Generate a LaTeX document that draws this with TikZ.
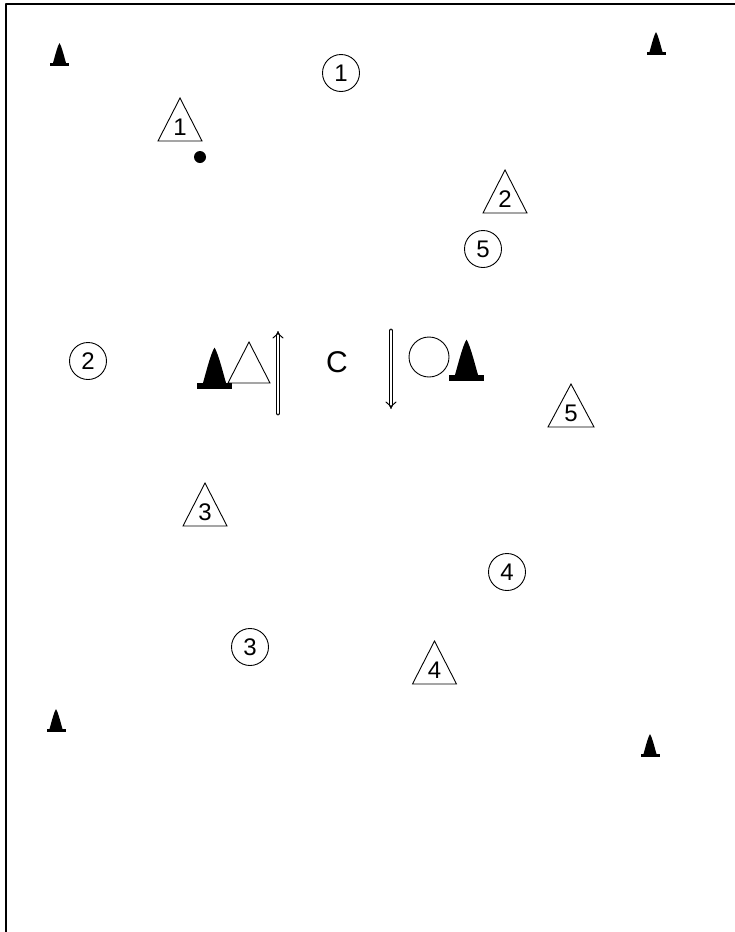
\documentclass[tikz,border=0pt]{standalone}
\usepackage{fontspec}
\setmainfont{Liberation Sans}
\usetikzlibrary{arrows.meta}

\tikzset{
  cone/.pic={
    \path[fill=black] (-9.5,0) rectangle (9.5,-3.5);
    \path[fill=black] (-6.5,-3) .. controls (-4.5,-10) and (-2,-20) .. (0,-23)
      .. controls (2,-20) and (4.5,-10) .. (6.5,-3) -- cycle;
  },
  numtext/.style={font=\fontsize{24}{24}\selectfont,inner sep=0pt},
  circnum/.style={numtext,draw,circle,minimum size=37pt,line width=.9pt},
  trinum/.style={numtext},
  tri/.style={draw,line width=.9pt,line join=miter},
  dblarrow/.style={double,double distance=2.8pt,line width=1pt,-{Implies[length=6pt,width=10pt]}}
}

\begin{document}
\begin{tikzpicture}[x=1pt,y=-1pt,line cap=round,line join=round]
\useasboundingbox (0,0) rectangle (735,932);
% field edges
\draw[line width=2pt,line cap=butt] (6,932) -- (6,4) -- (735,4);
% corner cones
\pic at (59.5,66) {cone};
\pic at (656,55) {cone};
\pic at (56,732) {cone};
\pic at (650,757) {cone};
% centre
\pic[scale=1.8] at (214.5,389) {cone};
\pic[scale=1.8] at (466.5,381) {cone};
\node[font=\fontsize{30}{30}\selectfont,inner sep=0pt] (centre) at (337,362) {C};
\coordinate (upfoot) at (278,413);
\coordinate (uphead) at (278,331);
\coordinate (downfoot) at (391,331);
\coordinate (downhead) at (391,409);
\draw[dblarrow] (upfoot) -- (uphead);
\draw[dblarrow] (downfoot) -- (downhead);
\draw[tri] (249,342) -- (270,383) -- (228,383) -- cycle;
\node[draw,circle,minimum size=40pt,inner sep=0pt,line width=.9pt] (keeper) at (429,357) {};
% circled players
\node[circnum] (c1) at (341,73) {1};
\node[circnum] (c2) at (88,361) {2};
\node[circnum] (c3) at (250,647) {3};
\node[circnum] (c4) at (507,572) {4};
\node[circnum] (c5) at (483,249) {5};
% triangle players
\node[trinum] (t1) at (180,127) {1};
\draw[tri,shift={(t1)}] (0,-29) -- (22,14) -- (-22,14) -- cycle;
\node[trinum] (t2) at (505,199) {2};
\draw[tri,shift={(t2)}] (0,-29) -- (22,14) -- (-22,14) -- cycle;
\node[trinum] (t3) at (205,512) {3};
\draw[tri,shift={(t3)}] (0,-29) -- (22,14) -- (-22,14) -- cycle;
\node[trinum] (t4) at (434.5,670) {4};
\draw[tri,shift={(t4)}] (0,-29) -- (22,14) -- (-22,14) -- cycle;
\node[trinum] (t5) at (571,413) {5};
\draw[tri,shift={(t5)}] (0,-29) -- (23,14) -- (-23,14) -- cycle;
% ball
\fill (200,157) circle (6);
\end{tikzpicture}
\end{document}
